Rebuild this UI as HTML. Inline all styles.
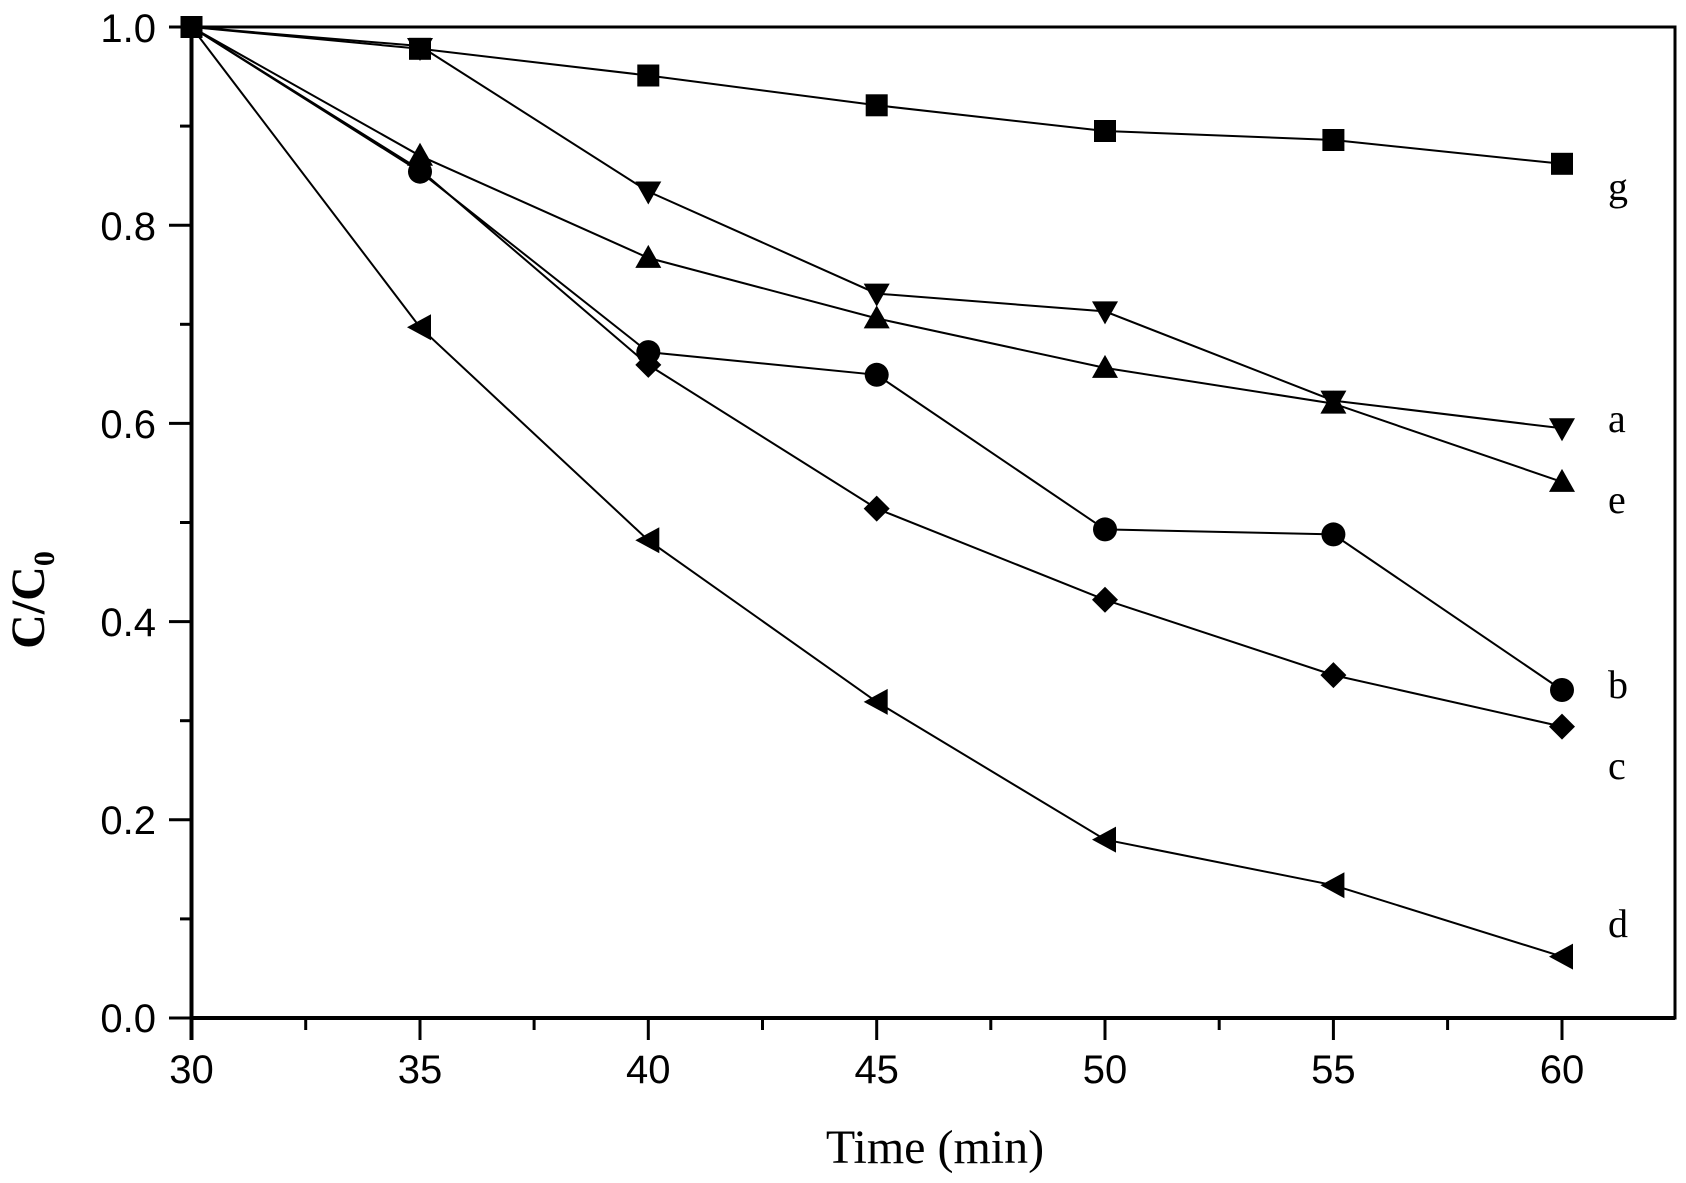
<!DOCTYPE html>
<html><head><meta charset="utf-8"><style>html,body{margin:0;padding:0;background:#fff}svg{display:block}</style></head>
<body>
<svg width="1686" height="1183" viewBox="0 0 1686 1183" xmlns="http://www.w3.org/2000/svg">
<defs>
<g id="sq"><rect x="-11" y="-11" width="22" height="22" fill="#000"/></g>
<g id="dn"><polygon points="-13,-10 13,-10 0,13" fill="#000"/></g>
<g id="up"><polygon points="-13,10 13,10 0,-13" fill="#000"/></g>
<g id="ci"><circle r="12" fill="#000"/></g>
<g id="di"><polygon points="0,-13 13,0 0,13 -13,0" fill="#000"/></g>
<g id="lt"><polygon points="-13,0 11,-13 11,13" fill="#000"/></g>
</defs>
<g fill="none" stroke="#000" stroke-width="2">
<polyline points="191.5,27 420,48.8 648.3,75.5 876.7,105.3 1105,131 1333.4,140 1562,163.8"/>
<polyline points="191.5,27 420,46 648.3,191.5 876.7,293.6 1105,311.4 1333.4,400.6 1562,428.3"/>
<polyline points="191.5,27 420,155.8 648.3,257.9 876.7,318.4 1105,367.9 1333.4,403.6 1562,481.9"/>
<polyline points="191.5,27 420,171.7 648.3,352.1 876.7,374.8 1105,529.4 1333.4,534.4 1562,690"/>
<polyline points="191.5,27 420,169.7 648.3,364.9 876.7,508.6 1105,599.8 1333.4,675.1 1562,726.6"/>
<polyline points="191.5,27 420,327.3 648.3,540.3 876.7,701.9 1105,839.6 1333.4,885.2 1562,956.6"/>
</g>
<g>
<use href="#sq" x="191.5" y="27"/><use href="#sq" x="420" y="48.8"/><use href="#sq" x="648.3" y="75.5"/><use href="#sq" x="876.7" y="105.3"/><use href="#sq" x="1105" y="131"/><use href="#sq" x="1333.4" y="140"/><use href="#sq" x="1562" y="163.8"/>
<use href="#dn" x="420" y="48"/><use href="#dn" x="648.3" y="191.5"/><use href="#dn" x="876.7" y="293.6"/><use href="#dn" x="1105" y="311.4"/><use href="#dn" x="1333.4" y="400.6"/><use href="#dn" x="1562" y="428.3"/>
<use href="#up" x="420" y="155.8"/><use href="#up" x="648.3" y="257.9"/><use href="#up" x="876.7" y="318.4"/><use href="#up" x="1105" y="367.9"/><use href="#up" x="1333.4" y="403.6"/><use href="#up" x="1562" y="481.9"/>
<use href="#ci" x="420" y="171.7"/><use href="#ci" x="648.3" y="352.1"/><use href="#ci" x="876.7" y="374.8"/><use href="#ci" x="1105" y="529.4"/><use href="#ci" x="1333.4" y="534.4"/><use href="#ci" x="1562" y="690"/>
<use href="#di" x="648.3" y="364.9"/><use href="#di" x="876.7" y="508.6"/><use href="#di" x="1105" y="599.8"/><use href="#di" x="1333.4" y="675.1"/><use href="#di" x="1562" y="726.6"/>
<use href="#lt" x="420" y="327.3"/><use href="#lt" x="648.3" y="540.3"/><use href="#lt" x="876.7" y="701.9"/><use href="#lt" x="1105" y="839.6"/><use href="#lt" x="1333.4" y="885.2"/><use href="#lt" x="1562" y="956.6"/>
</g>
<g stroke="#000" stroke-width="4" fill="none">
<rect x="191.5" y="27" width="1483.5" height="991" stroke-width="3"/>
<line x1="191.5" y1="1018" x2="1675" y2="1018" stroke-width="4"/>
<line x1="191.5" y1="27" x2="191.5" y2="1040" stroke-width="4"/>
</g>
<g stroke="#000" stroke-width="3">
<line x1="169" y1="1018" x2="191" y2="1018"/><line x1="169" y1="819.8" x2="191" y2="819.8"/><line x1="169" y1="621.6" x2="191" y2="621.6"/><line x1="169" y1="423.4" x2="191" y2="423.4"/><line x1="169" y1="225.2" x2="191" y2="225.2"/><line x1="169" y1="27" x2="191" y2="27"/>
<line x1="180" y1="918.9" x2="191" y2="918.9"/><line x1="180" y1="720.7" x2="191" y2="720.7"/><line x1="180" y1="522.5" x2="191" y2="522.5"/><line x1="180" y1="324.3" x2="191" y2="324.3"/><line x1="180" y1="126.1" x2="191" y2="126.1"/>
<line x1="420" y1="1018" x2="420" y2="1040"/><line x1="648.3" y1="1018" x2="648.3" y2="1040"/><line x1="876.7" y1="1018" x2="876.7" y2="1040"/><line x1="1105" y1="1018" x2="1105" y2="1040"/><line x1="1333.4" y1="1018" x2="1333.4" y2="1040"/><line x1="1562" y1="1018" x2="1562" y2="1040"/>
<line x1="305.7" y1="1018" x2="305.7" y2="1030"/><line x1="534.1" y1="1018" x2="534.1" y2="1030"/><line x1="762.5" y1="1018" x2="762.5" y2="1030"/><line x1="990.8" y1="1018" x2="990.8" y2="1030"/><line x1="1219.2" y1="1018" x2="1219.2" y2="1030"/><line x1="1447.6" y1="1018" x2="1447.6" y2="1030"/>
</g>
<g font-family="Liberation Sans, sans-serif" font-size="40" fill="#000">
<g text-anchor="end"><text x="156" y="1032">0.0</text><text x="156" y="834">0.2</text><text x="156" y="636">0.4</text><text x="156" y="438">0.6</text><text x="156" y="240">0.8</text><text x="156" y="42">1.0</text></g>
<g text-anchor="middle"><text x="191.5" y="1083">30</text><text x="420" y="1083">35</text><text x="648.3" y="1083">40</text><text x="876.7" y="1083">45</text><text x="1105" y="1083">50</text><text x="1333.4" y="1083">55</text><text x="1562" y="1083">60</text></g>
</g>
<g font-family="Liberation Serif, serif" font-size="40" fill="#000">
<text x="1608" y="200">g</text><text x="1608" y="432">a</text><text x="1608" y="513">e</text><text x="1608" y="698">b</text><text x="1608" y="779">c</text><text x="1608" y="937">d</text>
</g>
<text x="935" y="1163" font-family="Liberation Serif, serif" font-size="48" text-anchor="middle">Time (min)</text>
<text transform="translate(44,600) rotate(-90)" font-family="Liberation Serif, serif" font-size="48" font-weight="bold" text-anchor="middle">C/C<tspan font-size="30" dy="10">0</tspan></text>
</svg>
</body></html>
